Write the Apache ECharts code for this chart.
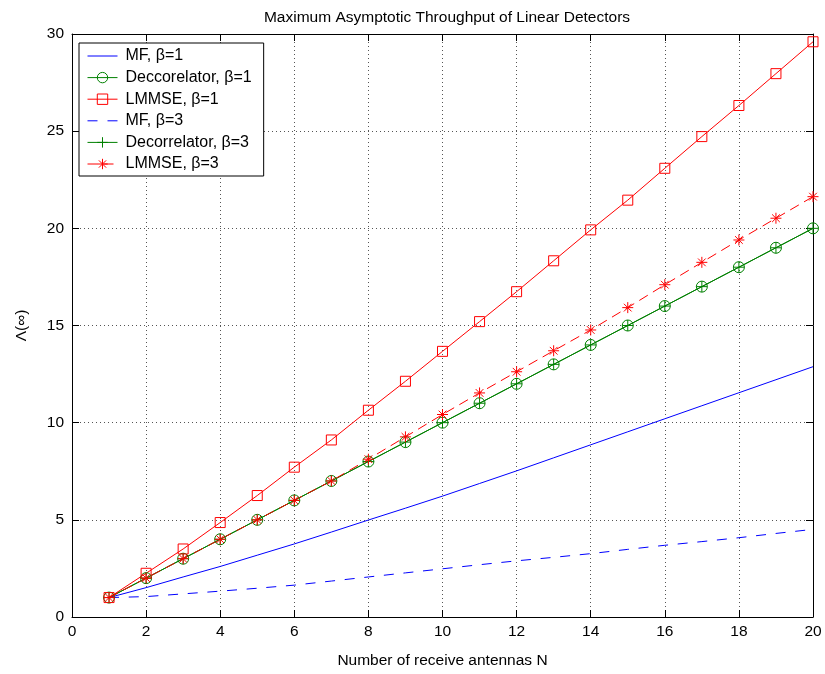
<!DOCTYPE html>
<html>
<head>
<meta charset="utf-8">
<script src="https://cdn.jsdelivr.net/npm/echarts@6/dist/echarts.min.js"></script>
<style>
  html, body { margin: 0; padding: 0; background: #fff; }
  #chart { width: 825px; height: 674px; }
</style>
</head>
<body>
<div id="chart"></div>
<script>
// Number of receive antennas
const antennas = [1, 2, 3, 4, 5, 6, 7, 8, 9, 10, 11, 12, 13, 14, 15, 16, 17, 18, 19, 20];

// Asymptotic throughput per detector and load
const mfBeta1 = [1.00, 1.51, 2.06, 2.60, 3.18, 3.76, 4.37, 4.99, 5.60, 6.22, 6.87, 7.52, 8.19, 8.86, 9.53, 10.20, 10.87, 11.54, 12.21, 12.88];
const decorBeta1 = [1, 2, 3, 4, 5, 6, 7, 8, 9, 10, 11, 12, 13, 14, 15, 16, 17, 18, 19, 20];
const lmmseBeta1 = [1.00, 2.25, 3.50, 4.86, 6.25, 7.71, 9.11, 10.64, 12.13, 13.67, 15.20, 16.74, 18.33, 19.92, 21.45, 23.09, 24.72, 26.32, 27.96, 29.60];
const mfBeta3 = [1.00, 1.05, 1.19, 1.33, 1.48, 1.64, 1.85, 2.06, 2.27, 2.48, 2.69, 2.89, 3.07, 3.26, 3.48, 3.69, 3.88, 4.08, 4.30, 4.51];
const decorBeta3 = [1, 2, 3, 4, 5, 6, 7, 8, 9, 10, 11, 12, 13, 14, 15, 16, 17, 18, 19, 20];
const lmmseBeta3 = [1.00, 2.00, 3.00, 4.00, 5.00, 6.00, 7.00, 8.12, 9.27, 10.42, 11.53, 12.62, 13.70, 14.77, 15.92, 17.10, 18.25, 19.40, 20.52, 21.63];

// Axis ticks
const xTicks = { min: 0, max: 20, interval: 2 };
const yTicks = { min: 0, max: 30, interval: 5 };

const seriesNames = ['MF, β=1', 'Deccorelator, β=1', 'LMMSE, β=1', 'MF, β=3', 'Decorrelator, β=3', 'LMMSE, β=3'];

const FONT = 'Liberation Sans, Arial, Helvetica, sans-serif';
const BLUE = '#0000ff', GREEN = '#008000', RED = '#ff0000';

// Open marker shapes drawn as stroked paths
const PLUS = 'path://M0,5 L10,5 M5,0 L5,10';
const STAR = 'path://M0,5 L10,5 M5,0 L5,10 M1.5,1.5 L8.5,8.5 M1.5,8.5 L8.5,1.5';
// Legend keys for the marker-less lines (the moves pin a 30x10 box)
const KEY_SOLID = 'path://M0,0 M0,5 L30,5 M30,10';
const KEY_DASHED = 'path://M0,0 M0,5 L10,5 M20,5 L30,5 M30,10';

const pairs = (ys) => antennas.map((n, i) => [n, ys[i]]);

function lineSeries(name, ys, color, opts) {
  return Object.assign({
    name: name,
    type: 'line',
    data: pairs(ys),
    showSymbol: true,
    symbol: 'none',
    symbolSize: 10,
    lineStyle: { color: color, width: 1, type: 'solid' },
    itemStyle: { color: 'rgba(0,0,0,0)', borderColor: color, borderWidth: 1 },
    emphasis: { disabled: true },
    silent: true,
    z: 3
  }, opts);
}

const axisTextStyle = { color: '#000', fontFamily: FONT, fontSize: 15.5 };

const chart = echarts.init(document.getElementById('chart'), null, { renderer: 'canvas' });
chart.setOption({
  animation: false,
  backgroundColor: '#fff',
  title: {
    text: 'Maximum Asymptotic Throughput of Linear Detectors',
    left: 442,
    textAlign: 'center',
    top: 5,
    textStyle: { color: '#000', fontFamily: FONT, fontSize: 15.5, fontWeight: 'normal' }
  },
  grid: { left: 72, right: 12, top: 34, bottom: 54, containLabel: false },
  legend: {
    orient: 'vertical',
    left: 79,
    top: 43,
    data: [
      { name: seriesNames[0], icon: KEY_SOLID },
      { name: seriesNames[1] },
      { name: seriesNames[2] },
      { name: seriesNames[3], icon: KEY_DASHED },
      { name: seriesNames[4] },
      { name: seriesNames[5] }
    ],
    itemWidth: 30,
    itemHeight: 13,
    itemGap: 5.6,
    padding: [5, 12, 4, 8],
    backgroundColor: '#fff',
    borderColor: '#000',
    borderWidth: 1,
    borderRadius: 0,
    selectedMode: false,
    lineStyle: { width: 1 },
    itemStyle: { borderWidth: 1 },
    textStyle: { color: '#000', fontFamily: FONT, fontSize: 16, lineHeight: 16, padding: [0, 0, 0, 3] }
  },
  xAxis: [
    {
      type: 'value', min: xTicks.min, max: xTicks.max, interval: xTicks.interval,
      position: 'bottom',
      name: 'Number of receive antennas N', nameLocation: 'middle', nameGap: 36,
      nameTextStyle: axisTextStyle,
      axisLine: { show: true, onZero: false, lineStyle: { color: '#000', width: 1 } },
      axisTick: { show: true, inside: true, length: 7, lineStyle: { color: '#000' } },
      axisLabel: Object.assign({ margin: 7 }, axisTextStyle),
      splitLine: { show: true, lineStyle: { color: '#555', width: 1, type: [1, 3] } }
    },
    {
      type: 'value', min: xTicks.min, max: xTicks.max, interval: xTicks.interval,
      position: 'top',
      axisLine: { show: true, onZero: false, lineStyle: { color: '#000', width: 1 } },
      axisTick: { show: true, inside: true, length: 7, lineStyle: { color: '#000' } },
      axisLabel: { show: false },
      splitLine: { show: false }
    }
  ],
  yAxis: [
    {
      type: 'value', min: yTicks.min, max: yTicks.max, interval: yTicks.interval,
      position: 'left',
      name: 'Λ(∞)', nameLocation: 'middle', nameGap: 42, nameRotate: 90,
      nameTextStyle: axisTextStyle,
      axisLine: { show: true, onZero: false, lineStyle: { color: '#000', width: 1 } },
      axisTick: { show: true, inside: true, length: 7, lineStyle: { color: '#000' } },
      axisLabel: Object.assign({ margin: 8 }, axisTextStyle),
      splitLine: { show: true, lineStyle: { color: '#555', width: 1, type: [1, 3] } }
    },
    {
      type: 'value', min: yTicks.min, max: yTicks.max, interval: yTicks.interval,
      position: 'right',
      axisLine: { show: true, onZero: false, lineStyle: { color: '#000', width: 1 } },
      axisTick: { show: true, inside: true, length: 7, lineStyle: { color: '#000' } },
      axisLabel: { show: false },
      splitLine: { show: false }
    }
  ],
  series: [
    lineSeries(seriesNames[0], mfBeta1, BLUE, { symbol: 'none' }),
    lineSeries(seriesNames[1], decorBeta1, GREEN, { symbol: 'circle', symbolSize: 11 }),
    lineSeries(seriesNames[2], lmmseBeta1, RED, { symbol: 'rect', symbolSize: 10 }),
    lineSeries(seriesNames[3], mfBeta3, BLUE, {
      symbol: 'none',
      lineStyle: { color: BLUE, width: 1, type: [10, 9.7] }
    }),
    lineSeries(seriesNames[4], decorBeta3, GREEN, { symbol: PLUS, symbolSize: 11 }),
    lineSeries(seriesNames[5], lmmseBeta3, RED, {
      symbol: STAR, symbolSize: 11,
      lineStyle: { color: RED, width: 1, type: [10, 6] }
    })
  ]
});
</script>
</body>
</html>
